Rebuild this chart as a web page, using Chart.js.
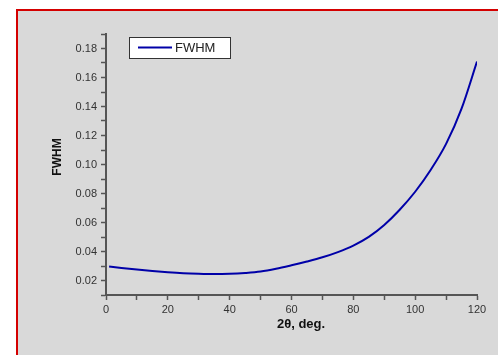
<!DOCTYPE html>
<html>
<head>
<meta charset="utf-8">
<script src="https://cdn.jsdelivr.net/npm/chart.js@4/dist/chart.umd.min.js"></script>
<style>
  body { margin: 0; background: #fff; }
  canvas { display: block; }
</style>
</head>
<body>
<canvas id="myChart" width="498" height="355"></canvas>
<script>
const twoTheta = [1, 5, 10, 15, 20, 25, 30, 35, 40, 45, 50, 55, 60, 65, 70, 75, 80, 85, 90, 95, 100, 105, 110, 115, 120];
const fwhm = [0.0297, 0.0287, 0.0276, 0.0266, 0.0257, 0.0250, 0.0246, 0.0244, 0.0246, 0.0252, 0.0262, 0.0281,
  0.0305, 0.0331, 0.0360, 0.0396, 0.0441, 0.0501, 0.0583, 0.0688, 0.0812, 0.0962, 0.1142, 0.1385, 0.1710];
const seriesName = 'FWHM';
const xTitle = '2θ, deg.';
const yTitle = 'FWHM';

const fontFam = '"Liberation Sans", Arial, sans-serif';
const lineColor = '#0000a8';

// frame, legend box and axis titles
const decor = {
  id: 'decor',
  beforeDraw(chart) {
    const c = chart.ctx;
    c.save();
    c.fillStyle = '#ffffff';
    c.fillRect(0, 0, chart.width, chart.height);
    c.fillStyle = '#d9d9d9';
    c.fillRect(17, 10, chart.width - 17, chart.height - 10);
    c.strokeStyle = '#d40000';
    c.lineWidth = 2;
    c.beginPath();
    c.moveTo(17, chart.height);
    c.lineTo(17, 10);
    c.lineTo(chart.width, 10);
    c.stroke();
    c.restore();
  },
  afterDraw(chart) {
    const c = chart.ctx;
    c.save();
    // legend
    c.fillStyle = '#ffffff';
    c.fillRect(129.5, 37.5, 101, 21);
    c.strokeStyle = '#333';
    c.lineWidth = 1;
    c.strokeRect(129.5, 37.5, 101, 21);
    c.strokeStyle = lineColor;
    c.lineWidth = 2;
    c.beginPath();
    c.moveTo(138, 47.5);
    c.lineTo(172, 47.5);
    c.stroke();
    c.fillStyle = '#222';
    c.font = '13px ' + fontFam;
    c.textBaseline = 'middle';
    c.fillText(seriesName, 175, 48);
    // axis titles
    c.fillStyle = '#111';
    c.font = 'bold 13px ' + fontFam;
    c.textAlign = 'center';
    c.fillText(xTitle, 301, 324);
    c.translate(58, 157);
    c.rotate(-Math.PI / 2);
    c.font = 'bold 12px ' + fontFam;
    c.fillText(yTitle, 0, 0);
    c.restore();
  }
};

const myChart = new Chart(document.getElementById('myChart'), {
  type: 'line',
  data: {
    datasets: [
      {
        label: seriesName,
        data: twoTheta.map((x, i) => ({ x: x, y: fwhm[i] })),
        borderColor: lineColor,
        borderWidth: 2,
        pointRadius: 0,
        fill: false,
        cubicInterpolationMode: 'monotone',
      },
    ],
  },
  options: {
    responsive: false,
    animation: false,
    layout: {
      padding: { left: 0, top: 34, right: 21, bottom: 0 },
    },
    plugins: {
      legend: { display: false },
      tooltip: { enabled: false },
    },
    scales: {
      x: {
        type: 'linear',
        min: 0,
        max: 120,
        afterFit(scale) { scale.height = 60; },
        border: { display: true, color: '#555', width: 2 },
        grid: { drawOnChartArea: false, tickLength: 5, color: '#555', tickWidth: 1.5 },
        ticks: {
          stepSize: 10,
          autoSkip: false,
          maxRotation: 0,
          padding: 3,
          color: '#333',
          font: { family: fontFam, size: 11 },
          callback: (v) => (v % 20 === 0 ? String(v) : ''),
        },
      },
      y: {
        min: 0.01,
        max: 0.19,
        afterFit(scale) { scale.width = 106; },
        border: { display: true, color: '#555', width: 2 },
        grid: { drawOnChartArea: false, tickLength: 5, color: '#555', tickWidth: 1.5 },
        ticks: {
          stepSize: 0.01,
          autoSkip: false,
          padding: 4,
          color: '#333',
          font: { family: fontFam, size: 11 },
          callback: (v) => (Math.round(v * 100) % 2 === 0 ? v.toFixed(2) : ''),
        },
      },
    },
  },
  plugins: [decor],
});
</script>
</body>
</html>
